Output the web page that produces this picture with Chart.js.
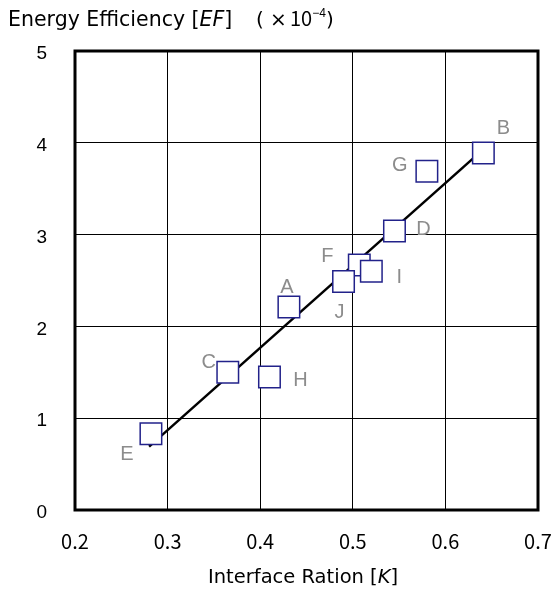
<!DOCTYPE html>
<html>
<head>
<meta charset="utf-8">
<script src="https://cdn.jsdelivr.net/npm/chart.js@4"></script>
<style>
  html, body { margin: 0; padding: 0; background: #fff; }
  #wrap { width: 558px; height: 590px; }
</style>
</head>
<body>
<div id="wrap"><canvas id="efChart" width="558" height="590"></canvas></div>
<script>
// sample names and measured values
const sampleNames = ["A", "B", "C", "D", "E", "F", "G", "H", "I", "J"];
const interfaceRatio = [0.431, 0.641, 0.365, 0.545, 0.282, 0.507, 0.580, 0.410, 0.520, 0.490];
const energyEff = [2.21, 3.89, 1.50, 3.04, 0.83, 2.67, 3.69, 1.45, 2.60, 2.49];

// fitted line end points
const fitK = [0.28, 0.64];
const fitEF = [0.69, 3.92];

// axis ticks
const xTicks = [0.2, 0.3, 0.4, 0.5, 0.6, 0.7];
const yTicks = [0, 1, 2, 3, 4, 5];

const jpFont = "'Noto Sans CJK JP', 'Noto Sans', sans-serif";
const latinFont = "'Liberation Sans', Arial, sans-serif";
const wideFont = "'DejaVu Sans', sans-serif";

// where each letter sits relative to its square (px)
const labelOffset = {
    A: [-2, -20], B: [20, -24], C: [-19, -10], D: [29, -1], E: [-24, 21],
    F: [-32, -8], G: [-27, -6], H: [31, 4], I: [28, 6], J: [-4, 31]
};

// write a run of [text, font] pieces one after another
function drawRun(ctx, pieces, x, y) {
    pieces.forEach(p => {
        ctx.font = p[1];
        ctx.fillText(p[0], x, y + (p[2] || 0));
        x += ctx.measureText(p[0]).width;
    });
}

// draws frame, both axis titles and point letters
const textPlugin = {
    id: "textPlugin",
    afterDraw(chart) {
        const ctx = chart.ctx;
        const area = chart.chartArea;

        // thick frame
        ctx.save();
        ctx.strokeStyle = "#000";
        ctx.lineWidth = 3;
        ctx.strokeRect(area.left, area.top, area.right - area.left, area.bottom - area.top);

        // y axis title
        ctx.fillStyle = "#000";
        ctx.textBaseline = "alphabetic";
        ctx.textAlign = "left";
        const yb = 26;
        drawRun(ctx, [
            ["Energy Efficiency [", "20.5px " + wideFont],
            ["EF", "italic 20.5px " + wideFont],
            ["]", "20.5px " + wideFont]
        ], 8, yb);
        drawRun(ctx, [["(", "20px " + wideFont]], 256, yb);
        drawRun(ctx, [["×", "20px " + wideFont]], 270, yb);
        drawRun(ctx, [["10", "20px " + jpFont], ["−4", "12px " + latinFont, -9]], 290, yb);
        drawRun(ctx, [[")", "20px " + wideFont]], 326, yb);

        // x axis title
        drawRun(ctx, [
            ["Interface Ration [", "19.5px " + wideFont],
            ["K", "italic 19.5px " + wideFont],
            ["]", "19.5px " + wideFont]
        ], 208, 583);

        // point letters
        const sx = chart.scales.x, sy = chart.scales.y;
        ctx.fillStyle = "#8c8c8c";
        ctx.font = "20px " + latinFont;
        ctx.textAlign = "center";
        ctx.textBaseline = "middle";
        sampleNames.forEach((name, i) => {
            const px = sx.getPixelForValue(interfaceRatio[i]);
            const py = sy.getPixelForValue(energyEff[i]);
            const off = labelOffset[name];
            ctx.fillText(name, px + off[0], py + off[1]);
        });
        ctx.restore();
    }
};

let ctx = document.getElementById("efChart").getContext("2d");
new Chart(ctx, {
    type: "scatter",
    data: {
        datasets: [
            {
                label: "samples",
                data: interfaceRatio.map((k, i) => ({ x: k, y: energyEff[i] })),
                pointStyle: "rect",
                pointRadius: 15.2,
                pointBorderWidth: 1.5,
                pointBorderColor: "#22228a",
                pointBackgroundColor: "#fff",
                order: 0
            },
            {
                label: "fit",
                type: "line",
                data: fitK.map((k, i) => ({ x: k, y: fitEF[i] })),
                borderColor: "#000",
                borderWidth: 2.5,
                pointRadius: 0,
                showLine: true,
                fill: false,
                order: 1
            }
        ]
    },
    options: {
        responsive: false,
        animation: false,
        layout: { padding: { top: 51, right: 20, left: 0, bottom: 0 } },
        plugins: { legend: { display: false }, tooltip: { enabled: false } },
        scales: {
            x: {
                type: "linear",
                min: 0.2,
                max: 0.7,
                afterBuildTicks: (s) => { s.ticks = xTicks.map(v => ({ value: v })); },
                afterFit: (s) => { s.height = 80; s.paddingLeft = 0; s.paddingRight = 0; },
                grid: { color: "#000", lineWidth: 1, drawTicks: false },
                border: { display: false },
                ticks: {
                    padding: 19,
                    maxRotation: 0,
                    color: "#000",
                    font: { size: 20, family: jpFont },
                    callback: (v) => v.toFixed(1)
                }
            },
            y: {
                type: "linear",
                min: 0,
                max: 5,
                afterBuildTicks: (s) => { s.ticks = yTicks.map(v => ({ value: v })); },
                afterFit: (s) => { s.width = 75; s.paddingTop = 0; s.paddingBottom = 0; },
                grid: { color: "#000", lineWidth: 1, drawTicks: false },
                border: { display: false },
                ticks: {
                    padding: 28,
                    labelOffset: 3,
                    color: "#000",
                    font: { size: 19, family: latinFont },
                    callback: (v) => String(v)
                }
            }
        }
    },
    plugins: [textPlugin]
});
</script>
</body>
</html>
